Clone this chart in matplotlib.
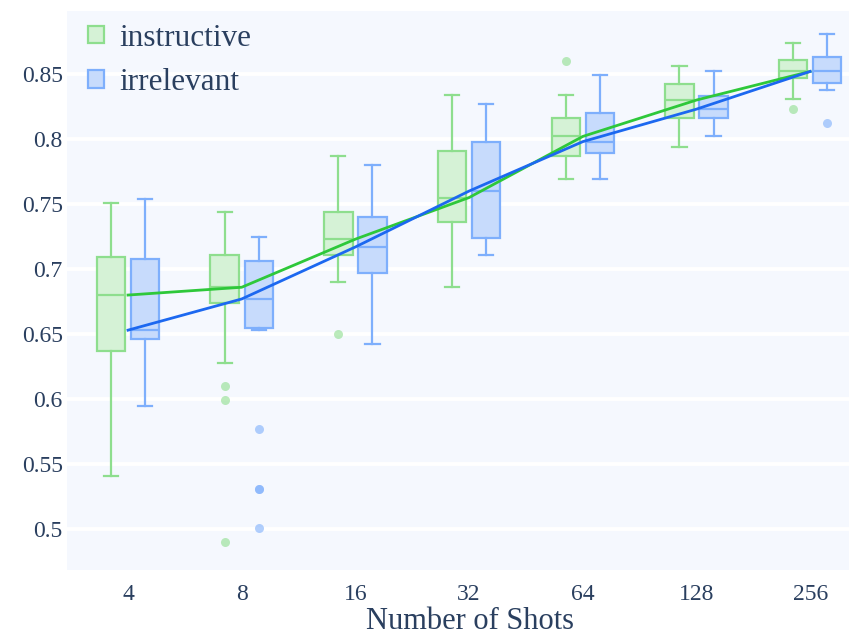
import matplotlib.pyplot as plt
from matplotlib.patches import Patch

plt.rcParams['font.family'] = ['Liberation Serif', 'DejaVu Serif']

shots = ['4', '8', '16', '32', '64', '128', '256']

# box statistics (lower whisker, Q1, median, Q3, upper whisker)
inst_low = [0.541, 0.628, 0.690, 0.686, 0.769, 0.794, 0.831]
inst_q1 = [0.637, 0.674, 0.711, 0.736, 0.787, 0.816, 0.847]
inst_med = [0.680, 0.686, 0.723, 0.755, 0.802, 0.830, 0.852]
inst_q3 = [0.709, 0.711, 0.744, 0.791, 0.816, 0.842, 0.861]
inst_high = [0.751, 0.744, 0.787, 0.834, 0.834, 0.856, 0.874]
inst_out = [[], [0.610, 0.599, 0.490], [0.650], [], [0.860], [], [0.823]]

irr_low = [0.595, 0.653, 0.642, 0.711, 0.769, 0.802, 0.838]
irr_q1 = [0.646, 0.655, 0.697, 0.724, 0.789, 0.816, 0.843]
irr_med = [0.653, 0.677, 0.717, 0.760, 0.798, 0.823, 0.852]
irr_q3 = [0.708, 0.706, 0.740, 0.798, 0.820, 0.833, 0.863]
irr_high = [0.754, 0.725, 0.780, 0.827, 0.849, 0.852, 0.881]
irr_out = [[], [0.577, 0.531, 0.531, 0.501], [], [], [], [], [0.812]]

green_edge = '#8ede8e'
green_fill = '#d5f2d6'
green_line = '#2ec83a'
blue_edge = '#7eaffc'
blue_fill = '#c7dbfc'
blue_line = '#1c68f0'
text_col = '#2a3f5f'


def make_stats(low, q1, med, q3, high, out):
    return [dict(whislo=a, q1=b, med=c, q3=d, whishi=e, fliers=f)
            for a, b, c, d, e, f in zip(low, q1, med, q3, high, out)]


fig = plt.figure(figsize=(8.49, 6.36), dpi=100)
# plot area runs past the right edge of the image, as in the reference
ax = fig.add_axes([67 / 849, 66 / 636, 806 / 849, 559 / 636])
ax.set_facecolor('#f5f8fe')

x = list(range(len(shots)))
off = 0.15
w = 0.25

for stats, pos, edge, fill in [
    (make_stats(inst_low, inst_q1, inst_med, inst_q3, inst_high, inst_out),
     [i - off for i in x], green_edge, green_fill),
    (make_stats(irr_low, irr_q1, irr_med, irr_q3, irr_high, irr_out),
     [i + off for i in x], blue_edge, blue_fill),
]:
    ax.bxp(stats, positions=pos, widths=w, patch_artist=True,
           boxprops=dict(facecolor=fill, edgecolor=edge, linewidth=1.6),
           medianprops=dict(color=edge, linewidth=1.6),
           whiskerprops=dict(color=edge, linewidth=1.6),
           capprops=dict(color=edge, linewidth=1.6),
           capwidths=w * 0.5,
           flierprops=dict(marker='o', markerfacecolor=edge, markeredgecolor='none',
                           alpha=0.6, markersize=6.5),
           manage_ticks=False, zorder=2)

ax.plot(x, inst_med, color=green_line, linewidth=2.0, zorder=3)
ax.plot(x, irr_med, color=blue_line, linewidth=2.0, zorder=3)

ax.set_xlim(-0.537, 6.553)
ax.set_ylim(0.4685, 0.8985)
ax.set_xticks(x)
ax.set_xticklabels(shots)
yt = [0.5, 0.55, 0.6, 0.65, 0.7, 0.75, 0.8, 0.85]
ax.set_yticks(yt)
ax.set_yticklabels(['0.5', '0.55', '0.6', '0.65', '0.7', '0.75', '0.8', '0.85'])
ax.yaxis.grid(True, color='white', linewidth=2.8, zorder=0)
ax.set_axisbelow(True)
ax.tick_params(axis='both', length=0, labelsize=17, labelcolor=text_col)
ax.tick_params(axis='x', pad=10)
ax.tick_params(axis='y', pad=3)
for s in ax.spines.values():
    s.set_visible(False)
ax.set_xlabel('Number of Shots', fontsize=22, color=text_col, labelpad=1.5)

handles = [Patch(facecolor=green_fill, edgecolor=green_edge, linewidth=1.6, label='instructive'),
           Patch(facecolor=blue_fill, edgecolor=blue_edge, linewidth=1.6, label='irrelevant')]
ax.legend(handles=handles, loc='upper left', bbox_to_anchor=(0.011, 1.0), frameon=False,
          fontsize=22.5, labelcolor=text_col, handlelength=0.5, handleheight=0.5,
          handletextpad=0.5, labelspacing=0.5, borderaxespad=0.0)

fig.savefig('out.png', dpi=100)
